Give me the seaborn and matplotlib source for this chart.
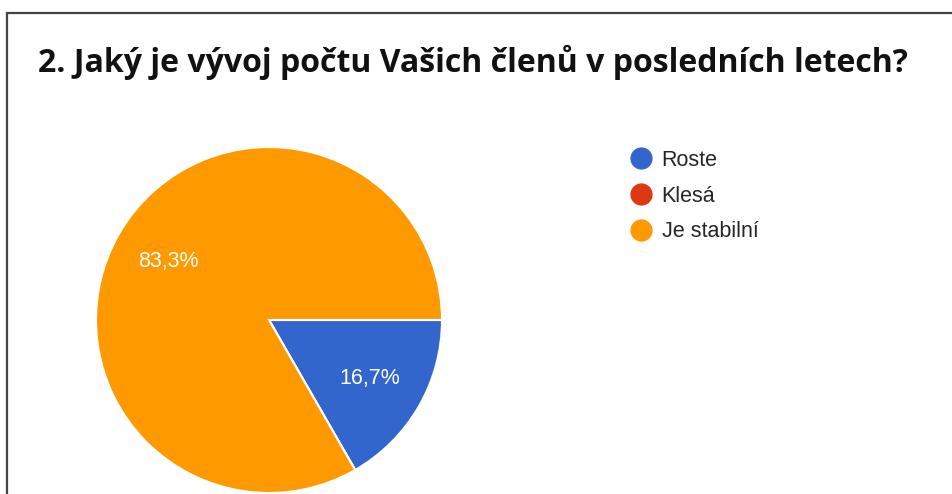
import matplotlib
matplotlib.use("Agg")
import matplotlib.pyplot as plt
from matplotlib.lines import Line2D
from matplotlib.patches import Rectangle
import seaborn as sns

categories = ["Roste", "Klesá", "Je stabilní"]
values = [16.7, 0.0, 83.3]
title = "2. Jaký je vývoj počtu Vašich členů v posledních letech?"

sns.set_theme(style="white")
plt.rcParams['font.family'] = ['Liberation Sans', 'DejaVu Sans']
colors = sns.color_palette(["#3366CC", "#DC3912", "#FF9900"])

fig = plt.figure(figsize=(9.53, 4.94), dpi=100)
fig.patch.set_facecolor("white")

W, H = 953, 494
cx, cy, r = 269, 320, 173
ax = fig.add_axes([(cx - r) / W, (H - cy - r) / H, 2 * r / W, 2 * r / H])

def fmt(p):
    return "" if p < 0.05 else f"{p:.1f}%".replace(".", ",")

wedges, texts, autotexts = ax.pie(
    values, colors=colors, startangle=0, counterclock=False,
    autopct=fmt, pctdistance=0.67, radius=1.0,
    wedgeprops=dict(edgecolor="white", linewidth=1.5),
    textprops=dict(color="white", fontsize=15.5),
)
ax.set_xlim(-1, 1)
ax.set_ylim(-1, 1)
ax.set_aspect("equal")
ax.axis("off")

fig.text(38 / W, 1 - 72 / H, title, fontsize=23, fontweight="bold",
         family=["Open Sans", "DejaVu Sans"], va="baseline", ha="left", color="#111111")

handles = [Line2D([0], [0], marker="o", linestyle="none", markersize=15,
                  markerfacecolor=c, markeredgecolor=c) for c in colors]
fig.legend(handles, categories, loc="upper left",
           bbox_to_anchor=(628.5 / W, 1 - 150 / H), frameon=False,
           fontsize=15.5, labelspacing=0.68, handletextpad=0.38,
           handlelength=1.16, borderaxespad=0, borderpad=0)

# outer frame (left and top edges visible)
fig.add_artist(Rectangle((6.5 / W, -0.1), 1.2, 1 - 12.5 / H + 0.1,
                         transform=fig.transFigure, fill=False,
                         edgecolor="#444444", linewidth=1.6))

fig.savefig("out.png", dpi=100, facecolor="white")
